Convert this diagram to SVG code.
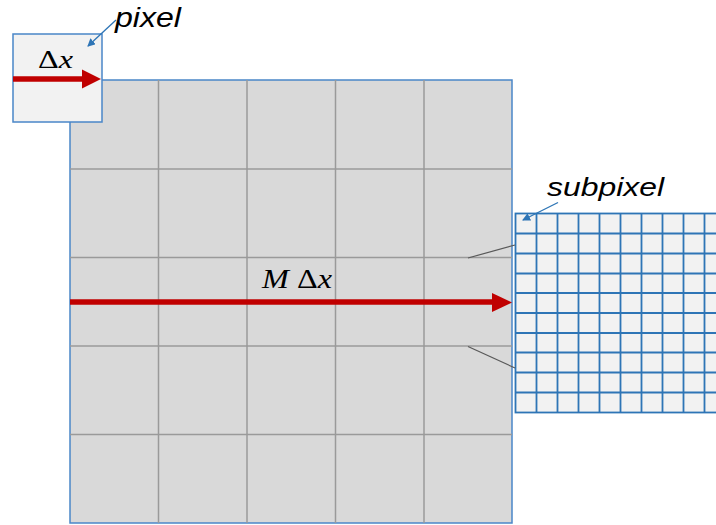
<svg xmlns="http://www.w3.org/2000/svg" width="716" height="525" viewBox="0 0 716 525">
  <style>
    .main{fill:#d9d9d9;stroke:#4a86c8;stroke-width:1.5}
    .gl{stroke:#9a9a9a;stroke-width:1.5;fill:none}
    .sub{fill:#f2f2f2;stroke:#2e75b6;stroke-width:1.8}
    .sl{stroke:#2e75b6;stroke-width:1.8;fill:none}
    .box{fill:#f2f2f2;stroke:#4a86c8;stroke-width:1.5}
    .lbl{font-family:"Liberation Sans",Arial,sans-serif;font-style:italic;fill:#000}
    .math{font-family:"Liberation Serif","DejaVu Serif",serif;fill:#000}
    .red{stroke:#c00000;stroke-width:5.5;fill:none}
    .lead{stroke:#2e75b6;stroke-width:1.3;fill:none}
    .zoom{stroke:#595959;stroke-width:1.2;fill:none}
  </style>
  <defs>
    <marker id="ah" markerWidth="8" markerHeight="8" refX="7" refY="4" orient="auto" markerUnits="userSpaceOnUse">
      <path d="M0,0 L8,4 L0,8 Z" fill="#2e75b6"/>
    </marker>
  </defs>

  <g id="main-grid">
    <rect class="main" x="70" y="80" width="442" height="443"/>
    <path class="gl" d="M158.5,80V523 M247,80V523 M335.5,80V523 M424,80V523 M70,169H512 M70,257.5H512 M70,346H512 M70,434.5H512"/>
  </g>

  <g id="subpixel-grid">
    <rect class="sub" x="515.5" y="213.5" width="210" height="199"/>
    <path class="sl" d="M536.5,213.5V412.5 M557.5,213.5V412.5 M578.5,213.5V412.5 M599.5,213.5V412.5 M620.5,213.5V412.5 M641.5,213.5V412.5 M662.5,213.5V412.5 M683.5,213.5V412.5 M704.5,213.5V412.5 M515.5,233.5H725 M515.5,253.5H725 M515.5,273.5H725 M515.5,293H725 M515.5,313H725 M515.5,333H725 M515.5,352.5H725 M515.5,372.5H725 M515.5,392.5H725"/>
  </g>

  <g id="pixel-box">
    <rect class="box" x="13" y="34" width="89" height="88"/>
    <text class="math" x="38" y="68" font-size="25" textLength="35" lengthAdjust="spacingAndGlyphs">Δ<tspan font-style="italic">x</tspan></text>
  </g>

  <g id="connectors">
    <line class="zoom" x1="468" y1="258" x2="515" y2="245"/>
    <line class="zoom" x1="468" y1="346.5" x2="515" y2="368"/>
    <line class="red" x1="70" y1="302" x2="494" y2="302"/>
    <path d="M492,293 L512,302.5 L492,312 Z" fill="#c00000"/>
    <line class="red" x1="13" y1="79" x2="84" y2="79"/>
    <path d="M82,69.5 L101,79 L82,88.5 Z" fill="#c00000"/>
    <line class="lead" x1="116" y1="20" x2="88" y2="46" marker-end="url(#ah)"/>
    <line class="lead" x1="558" y1="202.5" x2="523" y2="220" marker-end="url(#ah)"/>
  </g>

  <g id="labels">
    <text class="lbl" x="115" y="27" font-size="27" textLength="66" lengthAdjust="spacingAndGlyphs">pixel</text>
    <text class="lbl" x="547" y="196" font-size="25" textLength="117" lengthAdjust="spacingAndGlyphs">subpixel</text>
    <text class="math" x="262" y="288" font-size="28" textLength="70" lengthAdjust="spacingAndGlyphs"><tspan font-style="italic">M</tspan> Δ<tspan font-style="italic">x</tspan></text>
  </g>
</svg>
